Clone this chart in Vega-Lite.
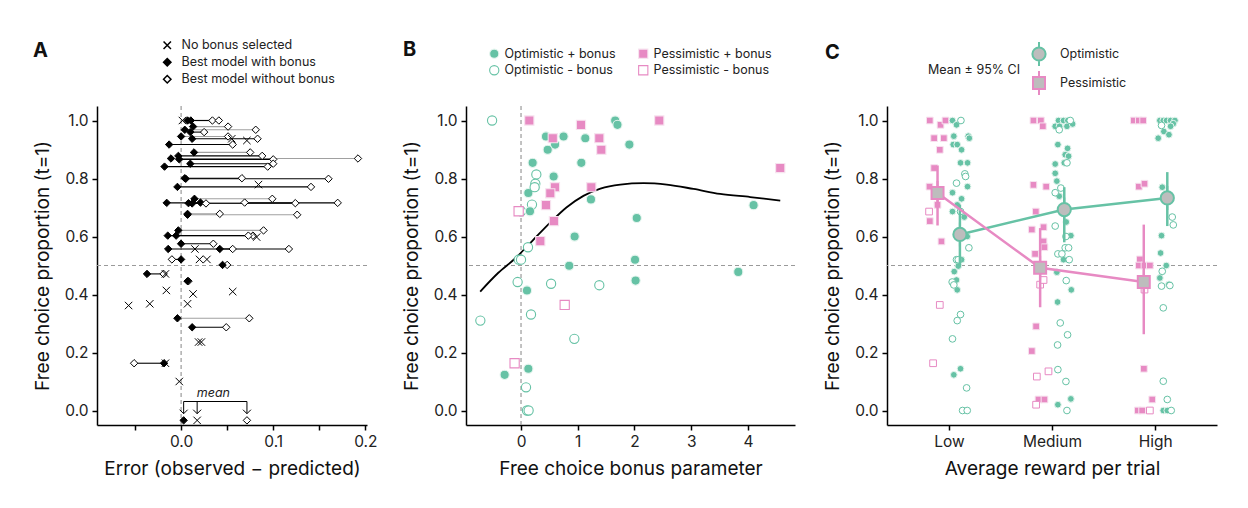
{
 "$schema": "https://vega.github.io/schema/vega-lite/v6.json",
 "padding": {"left": 33, "top": 39, "right": 5, "bottom": 5},
 "config": {
  "font": "Inter",
  "view": {"stroke": null},
  "axis": {"domainColor": "black", "domainWidth": 1.5, "tickColor": "black", "tickWidth": 1.5, "tickSize": 5, "labelFontSize": 15.5, "labelColor": "#222", "titleFontSize": 19, "titleFontWeight": "normal", "titleColor": "#111", "grid": false, "labelPadding": 4},
  "legend": {"labelFontSize": 12.5, "labelColor": "#222"},
  "title": {"fontSize": 20, "fontWeight": "bold", "anchor": "start", "frame": "group", "color": "#111"}
 },
 "datasets": {
  "errA": [
   {"y": 1.0, "Best model with bonus": 0.007, "Best model without bonus": 0.034, "lc": "black"},
   {"y": 1.0, "Best model with bonus": 0.0105, "Best model without bonus": 0.041, "lc": "black"},
   {"y": 0.979, "Best model with bonus": 0.013, "Best model without bonus": 0.051, "lc": "gray"},
   {"y": 0.968, "Best model with bonus": 0.004, "Best model without bonus": 0.081, "lc": "gray"},
   {"y": 0.96, "Best model with bonus": 0.010, "Best model without bonus": 0.025, "lc": "black"},
   {"y": 0.945, "Best model with bonus": 0.0, "Best model without bonus": 0.051, "lc": "gray"},
   {"y": 0.937, "Best model with bonus": 0.012, "Best model without bonus": 0.083, "lc": "black"},
   {"y": 0.917, "Best model with bonus": -0.013, "Best model without bonus": 0.056, "lc": "black"},
   {"y": 0.89, "Best model with bonus": 0.014, "Best model without bonus": 0.075, "lc": "gray"},
   {"y": 0.878, "Best model with bonus": -0.003, "Best model without bonus": 0.088, "lc": "black"},
   {"y": 0.869, "Best model with bonus": -0.011, "Best model without bonus": 0.192, "lc": "gray"},
   {"y": 0.866, "Best model with bonus": -0.002, "Best model without bonus": 0.100, "lc": "black"},
   {"y": 0.851, "Best model with bonus": 0.010, "Best model without bonus": 0.100, "lc": "black"},
   {"y": 0.841, "Best model with bonus": -0.018, "Best model without bonus": 0.094, "lc": "black"},
   {"y": 0.801, "Best model with bonus": 0.004, "Best model without bonus": 0.066, "lc": "black"},
   {"y": 0.799, "Best model with bonus": 0.005, "Best model without bonus": 0.160, "lc": "black"},
   {"y": 0.771, "Best model with bonus": -0.004, "Best model without bonus": 0.141, "lc": "black"},
   {"y": 0.730, "Best model with bonus": 0.0145, "Best model without bonus": 0.099, "lc": "gray"},
   {"y": 0.716, "Best model with bonus": -0.0156, "Best model without bonus": 0.170, "lc": "black"},
   {"y": 0.715, "Best model with bonus": 0.008, "Best model without bonus": 0.124, "lc": "black"},
   {"y": 0.717, "Best model with bonus": 0.021, "Best model without bonus": 0.069, "lc": "gray"},
   {"y": 0.714, "Best model with bonus": 0.012, "Best model without bonus": 0.027, "lc": "black"},
   {"y": 0.678, "Best model with bonus": 0.007, "Best model without bonus": 0.042, "lc": "gray"},
   {"y": 0.675, "Best model with bonus": 0.007, "Best model without bonus": 0.126, "lc": "gray"},
   {"y": 0.621, "Best model with bonus": -0.003, "Best model without bonus": 0.0895, "lc": "gray"},
   {"y": 0.603, "Best model with bonus": -0.0054, "Best model without bonus": 0.078, "lc": "gray"},
   {"y": 0.603, "Best model with bonus": -0.0145, "Best model without bonus": 0.073, "lc": "black"},
   {"y": 0.575, "Best model with bonus": 0.0, "Best model without bonus": 0.035, "lc": "black"},
   {"y": 0.557, "Best model with bonus": -0.014, "Best model without bonus": 0.117, "lc": "black"},
   {"y": 0.557, "Best model with bonus": 0.042, "Best model without bonus": 0.056, "lc": "black"},
   {"y": 0.521, "Best model with bonus": 0.0, "Best model without bonus": -0.010, "lc": "black"},
   {"y": 0.502, "Best model with bonus": 0.045, "Best model without bonus": 0.050, "lc": "black"},
   {"y": 0.471, "Best model with bonus": -0.037, "Best model without bonus": -0.019, "lc": "black"},
   {"y": 0.446, "Best model with bonus": 0.007, "Best model without bonus": 0.008, "lc": "gray"},
   {"y": 0.318, "Best model with bonus": -0.004, "Best model without bonus": 0.074, "lc": "gray"},
   {"y": 0.287, "Best model with bonus": 0.012, "Best model without bonus": 0.049, "lc": "black"},
   {"y": 0.163, "Best model with bonus": -0.0185, "Best model without bonus": -0.051, "lc": "black"},
   {"y": 1.0, "No bonus selected": 0.0014},
   {"y": 0.937, "No bonus selected": 0.055},
   {"y": 0.931, "No bonus selected": 0.0714},
   {"y": 0.779, "No bonus selected": 0.084},
   {"y": 0.598, "No bonus selected": 0.082},
   {"y": 0.557, "No bonus selected": 0.015},
   {"y": 0.521, "No bonus selected": 0.020},
   {"y": 0.521, "No bonus selected": 0.028},
   {"y": 0.471, "No bonus selected": -0.017},
   {"y": 0.414, "No bonus selected": -0.016},
   {"y": 0.41, "No bonus selected": 0.056},
   {"y": 0.402, "No bonus selected": 0.013},
   {"y": 0.368, "No bonus selected": -0.034},
   {"y": 0.368, "No bonus selected": 0.007},
   {"y": 0.362, "No bonus selected": -0.057},
   {"y": 0.236, "No bonus selected": 0.019},
   {"y": 0.236, "No bonus selected": 0.022},
   {"y": 0.163, "No bonus selected": -0.017},
   {"y": 0.1, "No bonus selected": -0.002}
  ],
  "bpts": [
   {"bonus": -0.51, "prop": 1.0, "type": "Optimistic - bonus"},
   {"bonus": 0.27, "prop": 0.814, "type": "Optimistic - bonus"},
   {"bonus": 0.252, "prop": 0.782, "type": "Optimistic - bonus"},
   {"bonus": 0.193, "prop": 0.71, "type": "Optimistic - bonus"},
   {"bonus": 0.0, "prop": 0.687, "type": "Optimistic - bonus"},
   {"bonus": 0.123, "prop": 0.563, "type": "Optimistic - bonus"},
   {"bonus": -0.04, "prop": 0.52, "type": "Optimistic - bonus"},
   {"bonus": 0.0, "prop": 0.52, "type": "Optimistic - bonus"},
   {"bonus": -0.06, "prop": 0.443, "type": "Optimistic - bonus"},
   {"bonus": 0.53, "prop": 0.437, "type": "Optimistic - bonus"},
   {"bonus": 1.38, "prop": 0.432, "type": "Optimistic - bonus"},
   {"bonus": -0.717, "prop": 0.31, "type": "Optimistic - bonus"},
   {"bonus": 0.176, "prop": 0.331, "type": "Optimistic - bonus"},
   {"bonus": 0.94, "prop": 0.247, "type": "Optimistic - bonus"},
   {"bonus": 0.088, "prop": 0.08, "type": "Optimistic - bonus"},
   {"bonus": 0.105, "prop": 0.0, "type": "Optimistic - bonus"},
   {"bonus": 0.134, "prop": 0.0, "type": "Optimistic - bonus"},
   {"bonus": 1.66, "prop": 1.0, "type": "Optimistic + bonus"},
   {"bonus": 1.70, "prop": 0.985, "type": "Optimistic + bonus"},
   {"bonus": 0.44, "prop": 0.945, "type": "Optimistic + bonus"},
   {"bonus": 0.75, "prop": 0.945, "type": "Optimistic + bonus"},
   {"bonus": 0.60, "prop": 0.917, "type": "Optimistic + bonus"},
   {"bonus": 0.47, "prop": 0.899, "type": "Optimistic + bonus"},
   {"bonus": 1.133, "prop": 0.939, "type": "Optimistic + bonus"},
   {"bonus": 1.91, "prop": 0.917, "type": "Optimistic + bonus"},
   {"bonus": 0.205, "prop": 0.854, "type": "Optimistic + bonus"},
   {"bonus": 1.063, "prop": 0.854, "type": "Optimistic + bonus"},
   {"bonus": 0.575, "prop": 0.807, "type": "Optimistic + bonus"},
   {"bonus": 0.25, "prop": 0.77, "type": "Optimistic + bonus"},
   {"bonus": 0.129, "prop": 0.75, "type": "Optimistic + bonus"},
   {"bonus": 1.233, "prop": 0.728, "type": "Optimistic + bonus"},
   {"bonus": 0.158, "prop": 0.687, "type": "Optimistic + bonus"},
   {"bonus": 2.04, "prop": 0.664, "type": "Optimistic + bonus"},
   {"bonus": 4.10, "prop": 0.708, "type": "Optimistic + bonus"},
   {"bonus": 0.945, "prop": 0.6, "type": "Optimistic + bonus"},
   {"bonus": 2.01, "prop": 0.52, "type": "Optimistic + bonus"},
   {"bonus": 0.85, "prop": 0.499, "type": "Optimistic + bonus"},
   {"bonus": 3.83, "prop": 0.478, "type": "Optimistic + bonus"},
   {"bonus": 2.02, "prop": 0.448, "type": "Optimistic + bonus"},
   {"bonus": 0.105, "prop": 0.414, "type": "Optimistic + bonus"},
   {"bonus": -0.289, "prop": 0.123, "type": "Optimistic + bonus"},
   {"bonus": 0.129, "prop": 0.144, "type": "Optimistic + bonus"},
   {"bonus": 0.24, "prop": 0.77, "type": "Optimistic - bonus"},
   {"bonus": 0.146, "prop": 1.0, "type": "Pessimistic + bonus"},
   {"bonus": 1.057, "prop": 0.985, "type": "Pessimistic + bonus"},
   {"bonus": 0.56, "prop": 0.939, "type": "Pessimistic + bonus"},
   {"bonus": 1.38, "prop": 0.939, "type": "Pessimistic + bonus"},
   {"bonus": 1.415, "prop": 0.899, "type": "Pessimistic + bonus"},
   {"bonus": 2.437, "prop": 1.0, "type": "Pessimistic + bonus"},
   {"bonus": 4.57, "prop": 0.836, "type": "Pessimistic + bonus"},
   {"bonus": 0.598, "prop": 0.77, "type": "Pessimistic + bonus"},
   {"bonus": 0.516, "prop": 0.749, "type": "Pessimistic + bonus"},
   {"bonus": 1.239, "prop": 0.77, "type": "Pessimistic + bonus"},
   {"bonus": 0.44, "prop": 0.708, "type": "Pessimistic + bonus"},
   {"bonus": 0.58, "prop": 0.653, "type": "Pessimistic + bonus"},
   {"bonus": 0.34, "prop": 0.584, "type": "Pessimistic + bonus"},
   {"bonus": -0.042, "prop": 0.687, "type": "Pessimistic - bonus"},
   {"bonus": 0.77, "prop": 0.364, "type": "Pessimistic - bonus"},
   {"bonus": -0.113, "prop": 0.163, "type": "Pessimistic - bonus"}
  ],
  "bcurve": [
   {"bonus": -0.72, "fit": 0.41}, {"bonus": -0.4, "fit": 0.475}, {"bonus": -0.1, "fit": 0.525},
   {"bonus": 0.2, "fit": 0.585}, {"bonus": 0.5, "fit": 0.645}, {"bonus": 0.8, "fit": 0.7},
   {"bonus": 1.1, "fit": 0.74}, {"bonus": 1.4, "fit": 0.765}, {"bonus": 1.75, "fit": 0.779},
   {"bonus": 2.16, "fit": 0.784}, {"bonus": 2.57, "fit": 0.779}, {"bonus": 3.04, "fit": 0.764},
   {"bonus": 3.51, "fit": 0.747}, {"bonus": 4.04, "fit": 0.736}, {"bonus": 4.57, "fit": 0.724}
  ],
  "craw": [
   {"pos": 0.815, "prop": 1.0, "type": "Pessimistic + bonus"},
   {"pos": 0.919, "prop": 0.985, "type": "Pessimistic + bonus"},
   {"pos": 0.967, "prop": 1.0, "type": "Pessimistic + bonus"},
   {"pos": 0.857, "prop": 0.939, "type": "Pessimistic + bonus"},
   {"pos": 0.951, "prop": 0.939, "type": "Pessimistic + bonus"},
   {"pos": 0.912, "prop": 0.899, "type": "Pessimistic + bonus"},
   {"pos": 0.857, "prop": 0.836, "type": "Pessimistic + bonus"},
   {"pos": 0.812, "prop": 0.772, "type": "Pessimistic + bonus"},
   {"pos": 0.886, "prop": 0.751, "type": "Pessimistic + bonus"},
   {"pos": 0.89, "prop": 0.709, "type": "Pessimistic + bonus"},
   {"pos": 0.815, "prop": 0.653, "type": "Pessimistic + bonus"},
   {"pos": 0.928, "prop": 0.583, "type": "Pessimistic + bonus"},
   {"pos": 0.808, "prop": 0.686, "type": "Pessimistic - bonus"},
   {"pos": 0.912, "prop": 0.364, "type": "Pessimistic - bonus"},
   {"pos": 0.847, "prop": 0.163, "type": "Pessimistic - bonus"},
   {"pos": 1.035, "prop": 1.0, "type": "Optimistic + bonus"},
   {"pos": 1.074, "prop": 0.985, "type": "Optimistic + bonus"},
   {"pos": 1.048, "prop": 0.946, "type": "Optimistic + bonus"},
   {"pos": 1.188, "prop": 0.946, "type": "Optimistic + bonus"},
   {"pos": 1.198, "prop": 0.939, "type": "Optimistic + bonus"},
   {"pos": 1.042, "prop": 0.917, "type": "Optimistic + bonus"},
   {"pos": 1.081, "prop": 0.917, "type": "Optimistic + bonus"},
   {"pos": 1.123, "prop": 0.899, "type": "Optimistic + bonus"},
   {"pos": 1.113, "prop": 0.854, "type": "Optimistic + bonus"},
   {"pos": 1.181, "prop": 0.854, "type": "Optimistic + bonus"},
   {"pos": 1.181, "prop": 0.772, "type": "Optimistic + bonus"},
   {"pos": 1.035, "prop": 0.751, "type": "Optimistic + bonus"},
   {"pos": 1.123, "prop": 0.73, "type": "Optimistic + bonus"},
   {"pos": 1.081, "prop": 0.709, "type": "Optimistic + bonus"},
   {"pos": 1.035, "prop": 0.686, "type": "Optimistic + bonus"},
   {"pos": 1.149, "prop": 0.667, "type": "Optimistic + bonus"},
   {"pos": 1.178, "prop": 0.6, "type": "Optimistic + bonus"},
   {"pos": 1.123, "prop": 0.52, "type": "Optimistic + bonus"},
   {"pos": 1.091, "prop": 0.498, "type": "Optimistic + bonus"},
   {"pos": 1.052, "prop": 0.479, "type": "Optimistic + bonus"},
   {"pos": 1.074, "prop": 0.45, "type": "Optimistic + bonus"},
   {"pos": 1.081, "prop": 0.416, "type": "Optimistic + bonus"},
   {"pos": 1.113, "prop": 0.144, "type": "Optimistic + bonus"},
   {"pos": 1.048, "prop": 0.123, "type": "Optimistic + bonus"},
   {"pos": 1.117, "prop": 1.0, "type": "Optimistic - bonus"},
   {"pos": 1.155, "prop": 0.816, "type": "Optimistic - bonus"},
   {"pos": 1.162, "prop": 0.807, "type": "Optimistic - bonus"},
   {"pos": 1.074, "prop": 0.784, "type": "Optimistic - bonus"},
   {"pos": 1.113, "prop": 0.686, "type": "Optimistic - bonus"},
   {"pos": 1.194, "prop": 0.561, "type": "Optimistic - bonus"},
   {"pos": 1.074, "prop": 0.52, "type": "Optimistic - bonus"},
   {"pos": 1.091, "prop": 0.52, "type": "Optimistic - bonus"},
   {"pos": 1.032, "prop": 0.443, "type": "Optimistic - bonus"},
   {"pos": 1.048, "prop": 0.433, "type": "Optimistic - bonus"},
   {"pos": 1.113, "prop": 0.331, "type": "Optimistic - bonus"},
   {"pos": 1.081, "prop": 0.31, "type": "Optimistic - bonus"},
   {"pos": 1.035, "prop": 0.247, "type": "Optimistic - bonus"},
   {"pos": 1.172, "prop": 0.078, "type": "Optimistic - bonus"},
   {"pos": 1.133, "prop": 0.0, "type": "Optimistic - bonus"},
   {"pos": 1.178, "prop": 0.0, "type": "Optimistic - bonus"},
   {"pos": 1.82, "prop": 1.0, "type": "Pessimistic + bonus"},
   {"pos": 1.892, "prop": 1.0, "type": "Pessimistic + bonus"},
   {"pos": 1.911, "prop": 0.98, "type": "Pessimistic + bonus"},
   {"pos": 1.82, "prop": 0.778, "type": "Pessimistic + bonus"},
   {"pos": 1.944, "prop": 0.772, "type": "Pessimistic + bonus"},
   {"pos": 1.843, "prop": 0.686, "type": "Pessimistic + bonus"},
   {"pos": 1.804, "prop": 0.624, "type": "Pessimistic + bonus"},
   {"pos": 1.918, "prop": 0.632, "type": "Pessimistic + bonus"},
   {"pos": 1.918, "prop": 0.583, "type": "Pessimistic + bonus"},
   {"pos": 1.927, "prop": 0.563, "type": "Pessimistic + bonus"},
   {"pos": 1.836, "prop": 0.54, "type": "Pessimistic + bonus"},
   {"pos": 1.846, "prop": 0.29, "type": "Pessimistic + bonus"},
   {"pos": 1.804, "prop": 0.205, "type": "Pessimistic + bonus"},
   {"pos": 1.869, "prop": 0.038, "type": "Pessimistic + bonus"},
   {"pos": 1.927, "prop": 0.038, "type": "Pessimistic + bonus"},
   {"pos": 1.885, "prop": 0.434, "type": "Pessimistic - bonus"},
   {"pos": 1.918, "prop": 0.45, "type": "Pessimistic - bonus"},
   {"pos": 1.966, "prop": 0.135, "type": "Pessimistic - bonus"},
   {"pos": 1.853, "prop": 0.117, "type": "Pessimistic - bonus"},
   {"pos": 1.846, "prop": 0.02, "type": "Pessimistic - bonus"},
   {"pos": 2.063, "prop": 1.0, "type": "Optimistic + bonus"},
   {"pos": 2.112, "prop": 1.0, "type": "Optimistic + bonus"},
   {"pos": 2.154, "prop": 1.0, "type": "Optimistic + bonus"},
   {"pos": 2.031, "prop": 0.98, "type": "Optimistic + bonus"},
   {"pos": 2.073, "prop": 0.98, "type": "Optimistic + bonus"},
   {"pos": 2.145, "prop": 0.98, "type": "Optimistic + bonus"},
   {"pos": 2.2, "prop": 0.988, "type": "Optimistic + bonus"},
   {"pos": 2.057, "prop": 0.917, "type": "Optimistic + bonus"},
   {"pos": 2.151, "prop": 0.904, "type": "Optimistic + bonus"},
   {"pos": 2.128, "prop": 0.882, "type": "Optimistic + bonus"},
   {"pos": 2.161, "prop": 0.877, "type": "Optimistic + bonus"},
   {"pos": 2.119, "prop": 0.854, "type": "Optimistic + bonus"},
   {"pos": 2.031, "prop": 0.85, "type": "Optimistic + bonus"},
   {"pos": 2.031, "prop": 0.818, "type": "Optimistic + bonus"},
   {"pos": 2.047, "prop": 0.791, "type": "Optimistic + bonus"},
   {"pos": 2.07, "prop": 0.739, "type": "Optimistic + bonus"},
   {"pos": 2.138, "prop": 0.65, "type": "Optimistic + bonus"},
   {"pos": 2.183, "prop": 0.603, "type": "Optimistic + bonus"},
   {"pos": 2.112, "prop": 0.52, "type": "Optimistic + bonus"},
   {"pos": 2.047, "prop": 0.477, "type": "Optimistic + bonus"},
   {"pos": 2.187, "prop": 0.416, "type": "Optimistic + bonus"},
   {"pos": 2.054, "prop": 0.374, "type": "Optimistic + bonus"},
   {"pos": 2.057, "prop": 0.02, "type": "Optimistic + bonus"},
   {"pos": 2.183, "prop": 0.04, "type": "Optimistic + bonus"},
   {"pos": 2.07, "prop": 0.968, "type": "Optimistic - bonus"},
   {"pos": 2.177, "prop": 1.0, "type": "Optimistic - bonus"},
   {"pos": 2.145, "prop": 0.854, "type": "Optimistic - bonus"},
   {"pos": 2.086, "prop": 0.767, "type": "Optimistic - bonus"},
   {"pos": 2.031, "prop": 0.751, "type": "Optimistic - bonus"},
   {"pos": 2.128, "prop": 0.561, "type": "Optimistic - bonus"},
   {"pos": 2.161, "prop": 0.561, "type": "Optimistic - bonus"},
   {"pos": 2.057, "prop": 0.54, "type": "Optimistic - bonus"},
   {"pos": 2.096, "prop": 0.54, "type": "Optimistic - bonus"},
   {"pos": 2.167, "prop": 0.52, "type": "Optimistic - bonus"},
   {"pos": 2.031, "prop": 0.636, "type": "Optimistic - bonus"},
   {"pos": 2.135, "prop": 0.6, "type": "Optimistic - bonus"},
   {"pos": 2.138, "prop": 0.448, "type": "Optimistic - bonus"},
   {"pos": 2.08, "prop": 0.302, "type": "Optimistic - bonus"},
   {"pos": 2.151, "prop": 0.261, "type": "Optimistic - bonus"},
   {"pos": 2.054, "prop": 0.226, "type": "Optimistic - bonus"},
   {"pos": 2.057, "prop": 0.141, "type": "Optimistic - bonus"},
   {"pos": 2.135, "prop": 0.1, "type": "Optimistic - bonus"},
   {"pos": 2.145, "prop": 0.0, "type": "Optimistic - bonus"},
   {"pos": 2.793, "prop": 1.0, "type": "Pessimistic + bonus"},
   {"pos": 2.842, "prop": 1.0, "type": "Pessimistic + bonus"},
   {"pos": 2.884, "prop": 1.0, "type": "Pessimistic + bonus"},
   {"pos": 2.842, "prop": 0.772, "type": "Pessimistic + bonus"},
   {"pos": 2.897, "prop": 0.782, "type": "Pessimistic + bonus"},
   {"pos": 2.852, "prop": 0.521, "type": "Pessimistic + bonus"},
   {"pos": 2.842, "prop": 0.5, "type": "Pessimistic + bonus"},
   {"pos": 2.897, "prop": 0.5, "type": "Pessimistic + bonus"},
   {"pos": 2.949, "prop": 0.5, "type": "Pessimistic + bonus"},
   {"pos": 2.891, "prop": 0.144, "type": "Pessimistic + bonus"},
   {"pos": 2.972, "prop": 0.038, "type": "Pessimistic + bonus"},
   {"pos": 2.832, "prop": 0.0, "type": "Pessimistic + bonus"},
   {"pos": 2.874, "prop": 0.0, "type": "Pessimistic + bonus"},
   {"pos": 2.897, "prop": 0.417, "type": "Pessimistic - bonus"},
   {"pos": 2.949, "prop": 0.0, "type": "Pessimistic - bonus"},
   {"pos": 3.046, "prop": 1.0, "type": "Optimistic + bonus"},
   {"pos": 3.079, "prop": 1.0, "type": "Optimistic + bonus"},
   {"pos": 3.111, "prop": 1.0, "type": "Optimistic + bonus"},
   {"pos": 3.15, "prop": 1.0, "type": "Optimistic + bonus"},
   {"pos": 3.192, "prop": 1.0, "type": "Optimistic + bonus"},
   {"pos": 3.176, "prop": 0.989, "type": "Optimistic + bonus"},
   {"pos": 3.15, "prop": 0.98, "type": "Optimistic + bonus"},
   {"pos": 3.085, "prop": 0.962, "type": "Optimistic + bonus"},
   {"pos": 3.134, "prop": 0.951, "type": "Optimistic + bonus"},
   {"pos": 3.03, "prop": 0.939, "type": "Optimistic + bonus"},
   {"pos": 3.069, "prop": 0.77, "type": "Optimistic + bonus"},
   {"pos": 3.062, "prop": 0.603, "type": "Optimistic + bonus"},
   {"pos": 3.053, "prop": 0.543, "type": "Optimistic + bonus"},
   {"pos": 3.108, "prop": 0.5, "type": "Optimistic + bonus"},
   {"pos": 3.046, "prop": 0.457, "type": "Optimistic + bonus"},
   {"pos": 3.134, "prop": 0.435, "type": "Optimistic + bonus"},
   {"pos": 3.079, "prop": 0.0, "type": "Optimistic + bonus"},
   {"pos": 3.118, "prop": 0.0, "type": "Optimistic + bonus"},
   {"pos": 3.062, "prop": 0.983, "type": "Optimistic - bonus"},
   {"pos": 3.166, "prop": 0.667, "type": "Optimistic - bonus"},
   {"pos": 3.176, "prop": 0.64, "type": "Optimistic - bonus"},
   {"pos": 3.069, "prop": 0.48, "type": "Optimistic - bonus"},
   {"pos": 3.062, "prop": 0.429, "type": "Optimistic - bonus"},
   {"pos": 3.143, "prop": 0.431, "type": "Optimistic - bonus"},
   {"pos": 3.079, "prop": 0.354, "type": "Optimistic - bonus"},
   {"pos": 3.079, "prop": 0.101, "type": "Optimistic - bonus"},
   {"pos": 3.118, "prop": 0.038, "type": "Optimistic - bonus"},
   {"pos": 3.156, "prop": 0.0, "type": "Optimistic - bonus"}
  ],
  "cmean": [
   {"group": "Optimistic", "pos": 1.107, "mean": 0.607, "lo": 0.50, "hi": 0.71},
   {"group": "Optimistic", "pos": 2.119, "mean": 0.693, "lo": 0.58, "hi": 0.77},
   {"group": "Optimistic", "pos": 3.118, "mean": 0.733, "lo": 0.636, "hi": 0.822},
   {"group": "Pessimistic", "pos": 0.89, "mean": 0.75, "lo": 0.638, "hi": 0.845},
   {"group": "Pessimistic", "pos": 1.885, "mean": 0.492, "lo": 0.356, "hi": 0.629},
   {"group": "Pessimistic", "pos": 2.89, "mean": 0.443, "lo": 0.263, "hi": 0.641}
  ]
 },
 "bounds": "flush",
 "spacing": 99,
 "resolve": {"scale": {"shape": "independent", "fill": "independent", "stroke": "independent", "color": "independent"}},
 "hconcat": [
  {
   "width": 270, "height": 319,
   "title": {"text": "A", "dx": -64, "dy": 26},
   "layer": [
    {"data": {"values": [{}]}, "mark": {"type": "rule", "strokeDash": [4, 3], "color": "#9a9a9a", "strokeWidth": 1.2}, "encoding": {"x": {"datum": 0}}},
    {"data": {"values": [{}]}, "mark": {"type": "rule", "strokeDash": [4, 3], "color": "#9a9a9a", "strokeWidth": 1.2}, "encoding": {"y": {"datum": 0.5}}},
    {
     "data": {"name": "errA"},
     "transform": [{"filter": "isValid(datum['Best model with bonus'])"}],
     "mark": {"type": "rule", "strokeWidth": 1.1},
     "encoding": {
      "x": {"field": "Best model with bonus", "type": "quantitative", "title": "Error (observed − predicted)",
            "scale": {"domain": [-0.0913, 0.2018], "nice": false, "zero": false},
            "axis": {"values": [-0.05, 0, 0.05, 0.1, 0.15, 0.2], "labelExpr": "abs(datum.value*10 - round(datum.value*10)) < 0.001 ? format(datum.value, '.1f') : ''", "titlePadding": 10}},
      "x2": {"field": "Best model without bonus"},
      "y": {"field": "y", "type": "quantitative", "title": "Free choice proportion (t=1)",
            "scale": {"domain": [-0.05, 1.05], "nice": false, "zero": false},
            "axis": {"values": [0, 0.2, 0.4, 0.6, 0.8, 1], "format": ".1f", "titlePadding": 12}},
      "color": {"field": "lc", "type": "nominal", "scale": {"domain": ["black", "gray"], "range": ["#000000", "#a0a0a0"]}, "legend": null}
     }
    },
    {
     "data": {"name": "errA"},
     "transform": [{"fold": ["Best model without bonus", "Best model with bonus", "No bonus selected"]}, {"filter": "isValid(datum.value)"}],
     "mark": {"type": "point", "stroke": "black", "strokeWidth": 1, "opacity": 1, "size": 55},
     "encoding": {
      "x": {"field": "value", "type": "quantitative", "title": "Error (observed − predicted)"},
      "y": {"field": "y", "type": "quantitative", "title": "Free choice proportion (t=1)"},
      "shape": {"field": "key", "type": "nominal", "scale": {"domain": ["No bonus selected", "Best model with bonus", "Best model without bonus"], "range": ["M-1,-1L1,1M1,-1L-1,1", "diamond", "diamond"]},
                "legend": {"orient": "none", "legendX": 64, "legendY": -67, "title": null, "symbolSize": 55, "rowPadding": 3, "labelOffset": 8, "encode": {"symbols": {"update": {"stroke": {"value": "black"}, "strokeWidth": {"value": 1}}}}}},
      "fill": {"field": "key", "type": "nominal", "scale": {"domain": ["No bonus selected", "Best model with bonus", "Best model without bonus"], "range": ["black", "black", "white"]},
                "legend": {"orient": "none", "legendX": 64, "legendY": -67, "title": null, "symbolSize": 55, "rowPadding": 3, "labelOffset": 8, "encode": {"symbols": {"update": {"stroke": {"value": "black"}, "strokeWidth": {"value": 1}}}}}}
     }
    },
    {
     "data": {"name": "errA"},
     "transform": [{"fold": ["Best model with bonus", "Best model without bonus", "No bonus selected"]}, {"filter": "isValid(datum.value)"}, {"aggregate": [{"op": "mean", "field": "value", "as": "m"}], "groupby": ["key"]}],
     "layer": [
      {"mark": {"type": "rule", "color": "black", "strokeWidth": 1}, "encoding": {"x": {"field": "m", "type": "quantitative"}, "y": {"datum": 0.031}, "y2": {"datum": -0.011}}},
      {"mark": {"type": "point", "shape": "M-1,-1L0,0L1,-1", "size": 64, "stroke": "black", "strokeWidth": 1, "filled": false, "opacity": 1}, "encoding": {"x": {"field": "m", "type": "quantitative"}, "y": {"datum": -0.011}}},
      {"mark": {"type": "point", "stroke": "black", "strokeWidth": 1, "opacity": 1, "size": 55}, "encoding": {"x": {"field": "m", "type": "quantitative"}, "y": {"datum": -0.034}, "shape": {"field": "key", "type": "nominal"}, "fill": {"field": "key", "type": "nominal"}}},
      {"transform": [{"aggregate": [{"op": "min", "field": "m", "as": "lo"}, {"op": "max", "field": "m", "as": "hi"}]}],
       "mark": {"type": "rule", "color": "black", "strokeWidth": 1}, "encoding": {"x": {"field": "lo", "type": "quantitative"}, "x2": {"field": "hi"}, "y": {"datum": 0.031}}},
      {"transform": [{"aggregate": [{"op": "count", "as": "n"}]}],
       "mark": {"type": "text", "text": "mean", "fontStyle": "italic", "fontSize": 12.5, "dy": -9, "color": "#222"}, "encoding": {"x": {"datum": 0.035}, "y": {"datum": 0.031}}}
     ]
    }
   ]
  },
  {
   "bounds": "flush",
   "spacing": 92,
   "resolve": {"scale": {"shape": "independent", "fill": "independent", "stroke": "independent", "color": "independent"}},
   "hconcat": [
    {
     "width": 329, "height": 319,
     "title": {"text": "B", "dx": -63, "dy": 17},
     "layer": [
      {"data": {"values": [{}]}, "mark": {"type": "rule", "strokeDash": [4, 3], "color": "#9a9a9a", "strokeWidth": 1.2}, "encoding": {"x": {"datum": 0}}},
      {"data": {"values": [{}]}, "mark": {"type": "rule", "strokeDash": [4, 3], "color": "#9a9a9a", "strokeWidth": 1.2}, "encoding": {"y": {"datum": 0.5}}},
      {
       "data": {"name": "bcurve"},
       "mark": {"type": "line", "color": "black", "strokeWidth": 1.8, "interpolate": "monotone"},
       "encoding": {
        "x": {"field": "bonus", "type": "quantitative", "title": "Free choice bonus parameter",
              "scale": {"domain": [-0.97, 4.83], "nice": false, "zero": false},
              "axis": {"values": [0, 1, 2, 3, 4], "format": "d", "titlePadding": 10}},
        "y": {"field": "fit", "type": "quantitative", "title": "Free choice proportion (t=1)",
              "scale": {"domain": [-0.05, 1.05], "nice": false, "zero": false},
              "axis": {"values": [0, 0.2, 0.4, 0.6, 0.8, 1], "format": ".1f", "titlePadding": 12}}
       }
      },
      {
       "data": {"name": "bpts"},
       "mark": {"type": "point", "size": 85, "strokeWidth": 1.1, "opacity": 1},
       "encoding": {
        "x": {"field": "bonus", "type": "quantitative", "title": "Free choice bonus parameter"},
        "y": {"field": "prop", "type": "quantitative", "title": "Free choice proportion (t=1)"},
        "shape": {"field": "type", "type": "nominal", "scale": {"domain": ["Optimistic + bonus", "Optimistic - bonus", "Pessimistic + bonus", "Pessimistic - bonus"], "range": ["circle", "circle", "square", "square"]},
                  "legend": {"orient": "none", "legendX": 22, "legendY": -59, "title": null, "columns": 2, "columnPadding": 20, "rowPadding": 2, "symbolSize": 85, "symbolStrokeWidth": 1.1}},
        "fill": {"field": "type", "type": "nominal", "scale": {"domain": ["Optimistic + bonus", "Optimistic - bonus", "Pessimistic + bonus", "Pessimistic - bonus"], "range": ["#66C2A5", "#ffffff", "#E78AC3", "#ffffff"]},
                  "legend": {"orient": "none", "legendX": 22, "legendY": -59, "title": null, "columns": 2, "columnPadding": 20, "rowPadding": 2, "symbolSize": 85, "symbolStrokeWidth": 1.1}},
        "stroke": {"field": "type", "type": "nominal", "scale": {"domain": ["Optimistic + bonus", "Optimistic - bonus", "Pessimistic + bonus", "Pessimistic - bonus"], "range": ["#e6f5ef", "#66C2A5", "#f7e3ef", "#E78AC3"]},
                  "legend": {"orient": "none", "legendX": 22, "legendY": -59, "title": null, "columns": 2, "columnPadding": 20, "rowPadding": 2, "symbolSize": 85, "symbolStrokeWidth": 1.1}}
       }
      }
     ]
    },
    {
     "width": 330, "height": 319,
     "title": {"text": "C", "dx": -62, "dy": 26},
     "resolve": {"scale": {"shape": "independent", "stroke": "independent", "fill": "independent"}},
     "layer": [
      {"data": {"values": [{}]}, "mark": {"type": "rule", "strokeDash": [4, 3], "color": "#9a9a9a", "strokeWidth": 1.2}, "encoding": {"y": {"datum": 0.5}}},
      {
       "data": {"name": "craw"},
       "mark": {"type": "point", "size": 45, "strokeWidth": 1, "opacity": 1},
       "encoding": {
        "x": {"field": "pos", "type": "quantitative", "title": "Average reward per trial",
              "scale": {"domain": [0.4, 3.6], "nice": false, "zero": false},
              "axis": {"values": [1, 2, 3], "labelExpr": "datum.value == 1 ? 'Low' : datum.value == 2 ? 'Medium' : 'High'", "titlePadding": 10}},
        "y": {"field": "prop", "type": "quantitative", "title": "Free choice proportion (t=1)",
              "scale": {"domain": [-0.05, 1.05], "nice": false, "zero": false},
              "axis": {"values": [0, 0.2, 0.4, 0.6, 0.8, 1], "format": ".1f", "titlePadding": 12}},
        "shape": {"field": "type", "type": "nominal", "scale": {"domain": ["Optimistic + bonus", "Pessimistic + bonus", "Optimistic - bonus", "Pessimistic - bonus"], "range": ["circle", "square", "circle", "square"]}, "legend": null},
        "fill": {"field": "type", "type": "nominal", "scale": {"domain": ["Optimistic + bonus", "Pessimistic + bonus", "Optimistic - bonus", "Pessimistic - bonus"], "range": ["#66C2A5", "#E78AC3", "#ffffff", "#ffffff"]}, "legend": null},
        "stroke": {"field": "type", "type": "nominal", "scale": {"domain": ["Optimistic + bonus", "Pessimistic + bonus", "Optimistic - bonus", "Pessimistic - bonus"], "range": ["#e6f5ef", "#f7e3ef", "#66C2A5", "#E78AC3"]}, "legend": null}
       }
      },
      {
       "data": {"name": "cmean"},
       "mark": {"type": "rule", "strokeWidth": 2.5},
       "encoding": {
        "x": {"field": "pos", "type": "quantitative", "title": "Average reward per trial"},
        "y": {"field": "lo", "type": "quantitative", "title": "Free choice proportion (t=1)"},
        "y2": {"field": "hi"},
        "color": {"field": "group", "type": "nominal", "scale": {"domain": ["Optimistic", "Pessimistic"], "range": ["#66C2A5", "#E78AC3"]}, "legend": null}
       }
      },
      {
       "data": {"name": "cmean"},
       "mark": {"type": "line", "strokeWidth": 2.5},
       "encoding": {
        "x": {"field": "pos", "type": "quantitative", "title": "Average reward per trial"},
        "y": {"field": "mean", "type": "quantitative", "title": "Free choice proportion (t=1)"},
        "color": {"field": "group", "type": "nominal", "legend": null}
       }
      },
      {
       "data": {"name": "cmean"},
       "mark": {"type": "point", "filled": true, "fill": "#BDBDBD", "strokeWidth": 2, "size": 576, "opacity": 1},
       "encoding": {
        "x": {"field": "pos", "type": "quantitative", "title": "Average reward per trial"},
        "y": {"field": "mean", "type": "quantitative", "title": "Free choice proportion (t=1)"},
        "shape": {"field": "group", "type": "nominal", "scale": {"domain": ["Optimistic", "Pessimistic"], "range": ["M0,-1L0,-0.55M0,0.55L0,1M-0.55,0A0.55,0.55 0 1,0 0.55,0A0.55,0.55 0 1,0 -0.55,0Z", "M0,-1L0,-0.5M0,0.5L0,1M-0.5,-0.5L0.5,-0.5L0.5,0.5L-0.5,0.5Z"]},
                  "legend": {"orient": "none", "legendX": 41, "legendY": -65, "title": "Mean ± 95% CI", "titleOrient": "left", "titleFontWeight": "normal", "titleFontSize": 12.5, "titleColor": "#222", "titleAnchor": "middle", "titleBaseline": "middle", "symbolFillColor": "#BDBDBD", "symbolStrokeWidth": 2, "symbolSize": 576, "rowPadding": -9, "labelOffset": 8}},
        "stroke": {"field": "group", "type": "nominal", "scale": {"domain": ["Optimistic", "Pessimistic"], "range": ["#66C2A5", "#E78AC3"]},
                  "legend": {"orient": "none", "legendX": 41, "legendY": -65, "title": "Mean ± 95% CI", "titleOrient": "left", "titleFontWeight": "normal", "titleFontSize": 12.5, "titleColor": "#222", "titleAnchor": "middle", "titleBaseline": "middle", "symbolFillColor": "#BDBDBD", "symbolStrokeWidth": 2, "symbolSize": 576, "rowPadding": -9, "labelOffset": 8}}
       }
      }
     ]
    }
   ]
  }
 ]
}
